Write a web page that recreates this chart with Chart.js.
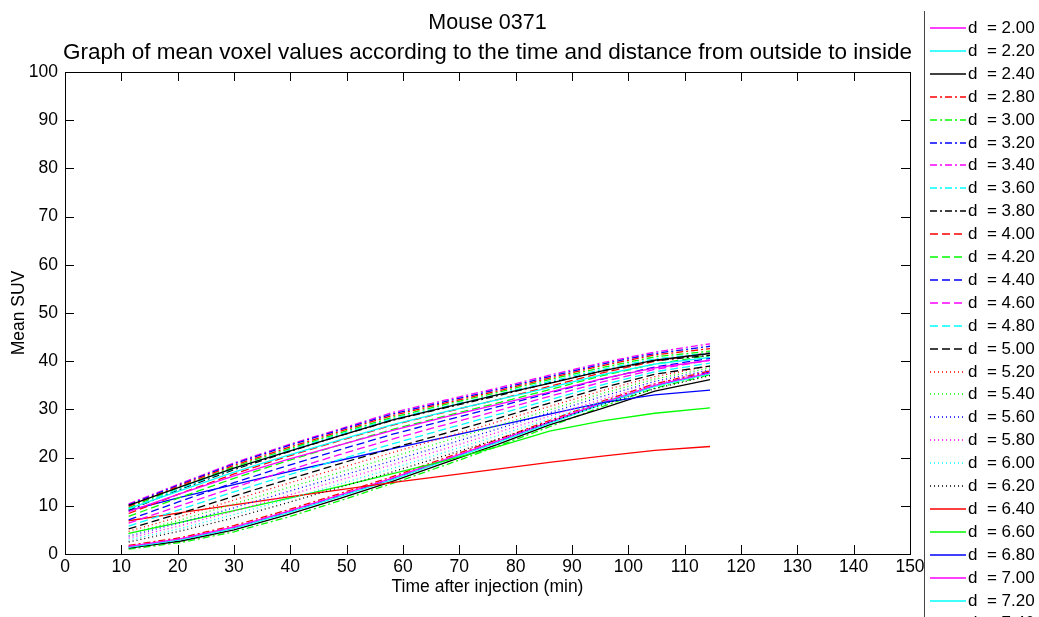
<!DOCTYPE html>
<html>
<head>
<meta charset="utf-8">
<script src="https://cdn.jsdelivr.net/npm/chart.js@4.4.0/dist/chart.umd.min.js"></script>
<style>
  html, body { margin: 0; padding: 0; background: #fff; }
  canvas { display: block; }
</style>
</head>
<body>
<canvas id="chart" width="1039" height="617"></canvas>
<script>
// sample times (min)
const times = [11.3, 20.6, 30, 39.4, 48.7, 58, 67.4, 76.7, 86, 95.4, 104.7, 114.5];

// distance labels (legend keeps going below the window)
const distLabels = ["2.00", "2.20", "2.40", "2.80", "3.00", "3.20", "3.40", "3.60", "3.80",
	"4.00", "4.20", "4.40", "4.60", "4.80", "5.00", "5.20", "5.40", "5.60", "5.80", "6.00",
	"6.20", "6.40", "6.60", "6.80", "7.00", "7.20", "7.40", "7.60", "7.80", "8.00"];

// mean SUV per distance
const d200 = [8.8, 12.6, 16.2, 19.6, 22.6, 25.6, 28.4, 31.0, 33.6, 36.4, 38.6, 40.2];
const d220 = [9.4, 13.2, 17.0, 20.4, 23.6, 26.8, 29.5, 32.0, 34.5, 37.2, 39.4, 40.8];
const d240 = [10.1, 14.0, 17.8, 21.2, 24.5, 27.8, 30.4, 33.0, 35.4, 38.0, 40.2, 41.6];
const d280 = [9.9, 14.3, 18.4, 22.0, 25.4, 28.7, 31.3, 33.8, 36.5, 39.1, 41.3, 42.6];
const d300 = [9.6, 14.0, 18.1, 21.7, 25.1, 28.3, 31.0, 33.5, 36.2, 38.7, 40.9, 42.1];
const d320 = [10.2, 14.5, 18.7, 22.4, 25.7, 29.0, 31.6, 34.1, 36.8, 39.4, 41.6, 43.1];
const d340 = [10.4, 14.7, 18.9, 22.6, 25.9, 29.3, 31.9, 34.4, 37.1, 39.7, 41.9, 43.6];
const d360 = [9.3, 13.7, 17.7, 21.4, 24.8, 28.0, 30.6, 33.1, 35.8, 38.3, 40.5, 41.7];
const d380 = [9.1, 13.5, 17.5, 21.1, 24.5, 27.7, 30.3, 32.8, 35.5, 38.0, 40.1, 41.2];
const d400 = [8.4, 12.6, 16.6, 20.2, 23.5, 26.7, 29.4, 32.0, 34.8, 37.6, 40.0, 41.8];
const d420 = [7.8, 11.8, 15.7, 19.3, 22.6, 25.8, 28.6, 31.3, 34.1, 37.0, 39.4, 41.2];
const d440 = [7.1, 11.0, 14.8, 18.3, 21.6, 24.8, 27.7, 30.5, 33.4, 36.3, 38.8, 40.6];
const d460 = [6.4, 10.1, 13.8, 17.3, 20.6, 23.8, 26.8, 29.7, 32.7, 35.7, 38.3, 40.2];
const d480 = [5.8, 9.3, 12.9, 16.3, 19.6, 22.8, 25.9, 28.9, 32.0, 35.1, 37.8, 39.6];
const d500 = [5.2, 8.5, 12.0, 15.4, 18.7, 21.9, 25.0, 28.1, 31.3, 34.5, 37.3, 39.0];
const d520 = [4.7, 7.8, 11.2, 14.6, 17.8, 21.0, 24.2, 27.4, 30.6, 33.9, 36.8, 39.0];
const d540 = [4.2, 7.1, 10.4, 13.7, 16.9, 20.1, 23.4, 26.6, 29.9, 33.3, 36.3, 38.6];
const d560 = [3.7, 6.5, 9.6, 12.9, 16.1, 19.3, 22.6, 25.9, 29.3, 32.7, 35.8, 38.2];
const d580 = [3.3, 5.9, 8.9, 12.1, 15.3, 18.5, 21.8, 25.2, 28.6, 32.1, 35.3, 37.8];
const d600 = [2.9, 5.3, 8.2, 11.3, 14.5, 17.7, 21.1, 24.5, 28.0, 31.6, 34.8, 37.4];
const d620 = [2.5, 4.8, 7.5, 10.6, 13.8, 17.0, 20.4, 23.8, 27.4, 31.0, 34.3, 37.0];
const d640 = [6.9, 8.6, 10.2, 11.8, 13.3, 14.8, 16.2, 17.6, 19.0, 20.3, 21.5, 22.3];
const d660 = [4.3, 6.6, 9.0, 11.5, 14.0, 16.6, 19.3, 22.2, 25.5, 27.6, 29.2, 30.3];
const d680 = [9.0, 11.8, 14.4, 17.0, 19.4, 21.8, 24.2, 26.6, 29.0, 31.4, 33.0, 34.0];
const d700 = [1.6, 3.2, 5.6, 8.8, 12.2, 15.7, 19.6, 23.4, 27.4, 31.4, 35.0, 37.6];
const d720 = [1.4, 3.0, 5.3, 8.5, 11.9, 15.4, 19.3, 23.1, 27.1, 31.1, 34.8, 37.4];
const d740 = [1.2, 2.7, 5.0, 8.1, 11.5, 15.0, 18.9, 22.7, 26.8, 30.2, 33.8, 36.2];
const d760 = [1.8, 3.4, 5.9, 9.1, 12.5, 16.0, 19.9, 23.7, 27.7, 31.7, 35.3, 38.0];
const d780 = [1.0, 2.4, 4.6, 7.6, 11.0, 14.6, 18.4, 22.3, 26.4, 30.6, 34.4, 37.2];
const d800 = [1.5, 3.1, 5.5, 8.7, 12.1, 15.6, 19.5, 23.3, 27.3, 31.3, 34.9, 37.8];

const series = [d200, d220, d240, d280, d300, d320, d340, d360, d380, d400, d420, d440,
	d460, d480, d500, d520, d540, d560, d580, d600, d620, d640, d660, d680, d700, d720,
	d740, d760, d780, d800];

const xTicks = [0, 10, 20, 30, 40, 50, 60, 70, 80, 90, 100, 110, 120, 130, 140, 150];
const yTicks = [0, 10, 20, 30, 40, 50, 60, 70, 80, 90, 100];

// matlab-like colour / line style cycle
const colorCycle = ["#ff0000", "#00ff00", "#0000ff", "#ff00ff", "#00ffff", "#000000"];
const dashCycle = [[], [7, 3, 2, 3], [8, 4], [1, 3]];
const FONT = '"Liberation Sans", Arial, Helvetica, sans-serif';

function styleOf(i) {
	const k = i + 3; // first curve is magenta solid
	return {
		color: colorCycle[k % 6],
		dash: dashCycle[Math.floor(k / 6) % 4],
	};
}

const datasets = series.map((vals, i) => {
	const st = styleOf(i);
	return {
		label: "d  = " + distLabels[i],
		data: vals.map((v, j) => ({ x: times[j], y: v })),
		borderColor: st.color,
		borderDash: st.dash,
		borderWidth: 1.3,
		pointRadius: 0,
		tension: 0,
		fill: false,
	};
});

const decor = {
	id: "decor",
	afterDraw(chart) {
		const c = chart.ctx;
		const a = chart.chartArea;
		const xs = chart.scales.x;
		const ys = chart.scales.y;
		c.save();

		// box and inward ticks
		c.strokeStyle = "#000";
		c.lineWidth = 1;
		c.setLineDash([]);
		c.strokeRect(Math.round(a.left) + 0.5, Math.round(a.top) + 0.5,
			Math.round(a.right - a.left), Math.round(a.bottom - a.top));
		c.beginPath();
		xTicks.forEach((t) => {
			const px = Math.round(xs.getPixelForValue(t)) + 0.5;
			c.moveTo(px, a.bottom); c.lineTo(px, a.bottom - 9);
			c.moveTo(px, a.top); c.lineTo(px, a.top + 9);
		});
		yTicks.forEach((t) => {
			const py = Math.round(ys.getPixelForValue(t)) + 0.5;
			c.moveTo(a.left, py); c.lineTo(a.left + 9, py);
			c.moveTo(a.right, py); c.lineTo(a.right - 9, py);
		});
		c.stroke();

		// titles
		c.fillStyle = "#000";
		c.textAlign = "center";
		c.textBaseline = "middle";
		const cx = (a.left + a.right) / 2;
		c.font = "21.5px " + FONT;
		c.fillText("Mouse 0371", cx, 23);
		const sub = "Graph of mean voxel values according to the time and distance from outside to inside";
		c.font = "20px " + FONT;
		const w = c.measureText(sub).width;
		const fs = 20 * 850 / w;
		c.font = fs.toFixed(1) + "px " + FONT;
		c.fillText(sub, cx, 53);

		c.font = "17.5px " + FONT;
		c.fillText("Time after injection (min)", cx, 587);
		c.save();
		c.translate(19, (a.top + a.bottom) / 2);
		c.rotate(-Math.PI / 2);
		c.fillText("Mean SUV", 0, 0);
		c.restore();

		// legend
		c.strokeStyle = "#444";
		c.beginPath();
		c.moveTo(924.5, 11);
		c.lineTo(924.5, 617);
		c.stroke();
		c.font = "17px " + FONT;
		c.textAlign = "left";
		chart.data.datasets.forEach((ds, i) => {
			const y = Math.round(28 + i * 22.9);
			c.strokeStyle = ds.borderColor;
			c.lineWidth = 1.5;
			c.setLineDash(ds.borderDash);
			c.beginPath();
			c.moveTo(930, y);
			c.lineTo(966, y);
			c.stroke();
			c.setLineDash([]);
			c.fillStyle = "#000";
			c.fillText(ds.label, 968, y + 0.5);
		});
		c.restore();
	},
};

new Chart(document.getElementById("chart"), {
	type: "line",
	data: { datasets },
	options: {
		responsive: false,
		animation: false,
		events: [],
		layout: { padding: { left: 0, right: 129, top: 72, bottom: 0 } },
		plugins: {
			legend: { display: false },
			title: { display: false },
			tooltip: { enabled: false },
		},
		scales: {
			x: {
				type: "linear",
				min: 0,
				max: 150,
				afterFit: (s) => { s.height = 63; },
				afterBuildTicks: (s) => { s.ticks = xTicks.map((v) => ({ value: v })); },
				grid: { display: false, drawTicks: false },
				border: { display: false },
				ticks: { color: "#000", padding: 3, maxRotation: 0, font: { family: FONT, size: 17.5 } },
			},
			y: {
				min: 0,
				max: 100,
				afterFit: (s) => { s.width = 65; },
				afterBuildTicks: (s) => { s.ticks = yTicks.map((v) => ({ value: v })); },
				grid: { display: false, drawTicks: false },
				border: { display: false },
				ticks: { color: "#000", padding: 7, font: { family: FONT, size: 17.5 } },
			},
		},
	},
	plugins: [decor],
});
</script>
</body>
</html>
